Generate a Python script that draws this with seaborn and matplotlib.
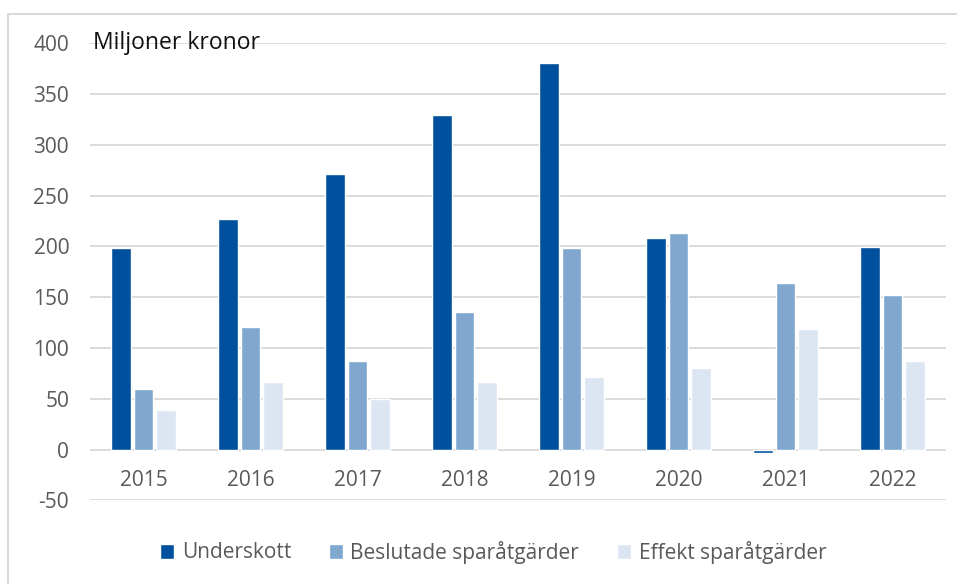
import pandas as pd
import matplotlib.pyplot as plt
import matplotlib.patches as mpatches
import seaborn as sns

years = ["2015", "2016", "2017", "2018", "2019", "2020", "2021", "2022"]
underskott = [198, 227, 271, 329, 381, 208, -3, 199]
beslutade = [60, 121, 87, 135, 198, 213, 164, 152]
effekt = [39, 67, 50, 67, 71, 80, 119, 87]
series_names = ["Underskott", "Beslutade sparåtgärder", "Effekt sparåtgärder"]
colors = ["#00509E", "#80A7D0", "#DCE6F2"]

df = pd.DataFrame({
    "year": years * 3,
    "value": underskott + beslutade + effekt,
    "serie": [s for s in series_names for _ in years],
})

sns.set_style("white")
plt.rcParams["font.family"] = ["Open Sans", "DejaVu Sans"]
plt.rcParams["axes.unicode_minus"] = False

fig = plt.figure(figsize=(9.57, 5.84), dpi=100)
ax = fig.add_axes([90 / 957, 1 - 500.3 / 584, 856 / 957, (500.3 - 43.4) / 584])

sns.barplot(data=df, x="year", y="value", hue="serie", palette=colors,
            width=0.63, gap=0.15, saturation=1, ax=ax, legend=True)

ax.set_ylim(-50, 400)
ax.set_yticks(range(-50, 401, 50))
ax.set_xlim(-0.5, len(years) - 0.5)
ax.set_xlabel("")
ax.set_ylabel("")
ax.yaxis.grid(True, color="#D9D9D9", linewidth=1.3)
ax.set_axisbelow(True)
for s in ["top", "right", "left"]:
    ax.spines[s].set_visible(False)
ax.spines["bottom"].set_position(("data", 0))
ax.spines["bottom"].set_visible(False)
ax.tick_params(axis="x", length=0, pad=15, labelsize=15, labelcolor="#595959")
ax.tick_params(axis="y", length=0, pad=15, labelsize=15, labelcolor="#595959")

ax.text(0.003, 400, "Miljoner kronor", transform=ax.get_yaxis_transform(),
        ha="left", va="center", fontsize=16.5, color="#111111")

handles, labels = ax.get_legend_handles_labels()
ax.get_legend().remove()
fig.legend(handles, labels, loc="center", bbox_to_anchor=(493 / 957, 1 - 552 / 584),
           ncol=3, frameon=False, fontsize=15, labelcolor="#595959",
           handlelength=0.7, handleheight=0.7, handletextpad=0.35, columnspacing=1.8)

border = mpatches.Rectangle((8 / 957, -0.1), 1.0, 1.1 - 14 / 584, transform=fig.transFigure,
                            fill=False, edgecolor="#D9D9D9", linewidth=1.5)
fig.patches.append(border)

plt.savefig("out.png", dpi=100)
